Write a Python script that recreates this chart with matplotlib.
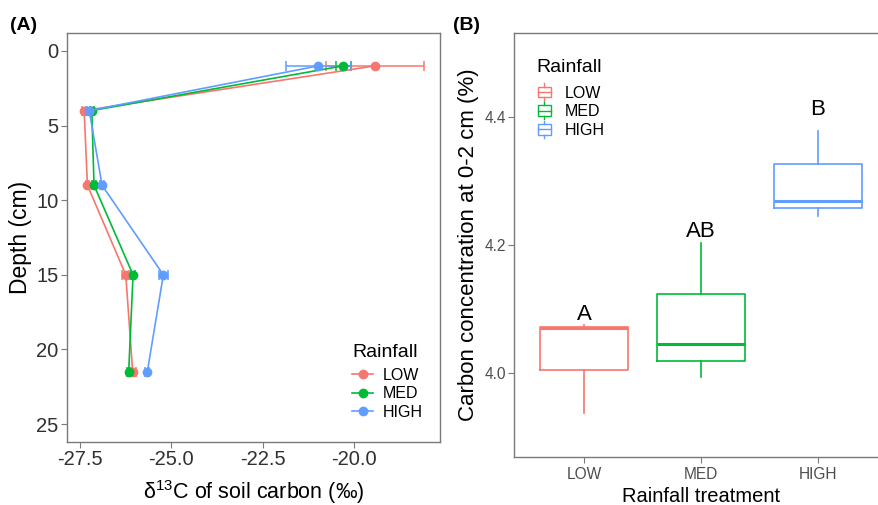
import matplotlib
matplotlib.use('Agg')
import matplotlib.pyplot as plt
from matplotlib.lines import Line2D
from matplotlib.patches import Rectangle, Patch
from matplotlib.legend_handler import HandlerBase

plt.rcParams['font.family'] = ['Liberation Sans', 'DejaVu Sans']
plt.rcParams['mathtext.fontset'] = 'custom'
plt.rcParams['mathtext.rm'] = 'Liberation Sans'
plt.rcParams['mathtext.it'] = 'Liberation Sans:italic'

# ---------------- data ----------------
groups = ['LOW', 'MED', 'HIGH']
colors = ['#F8766D', '#00BA38', '#619CFF']

depth = [1, 4, 9, 15, 21.5]
d13c_low = [-19.42, -27.39, -27.30, -26.25, -26.06]
d13c_med = [-20.29, -27.18, -27.12, -26.05, -26.17]
d13c_high = [-20.97, -27.25, -26.90, -25.22, -25.66]
se_low = [1.33, 0.05, 0.05, 0.10, 0.10]
se_med = [0.20, 0.05, 0.05, 0.05, 0.05]
se_high = [0.88, 0.05, 0.05, 0.12, 0.05]

xticks_a = [-27.5, -25.0, -22.5, -20.0]
yticks_a = [0, 5, 10, 15, 20, 25]

box_whislo = [3.939, 3.995, 4.245]
box_q1 = [4.005, 4.020, 4.257]
box_med = [4.071, 4.046, 4.2685]
box_q3 = [4.072, 4.124, 4.326]
box_whishi = [4.075, 4.2025, 4.3775]
letters = ['A', 'AB', 'B']
letter_y = [4.075, 4.204, 4.394]
yticks_b = [4.0, 4.2, 4.4]

W, H = 879, 505
fig = plt.figure(figsize=(W / 100, H / 100), dpi=100)
spine_c = '#7a7a7a'

# ---------------- panel A ----------------
axA = fig.add_axes([67 / W, 63 / H, 373 / W, 409 / H])
series = [d13c_low, d13c_med, d13c_high]
ses = [se_low, se_med, se_high]
handles = []
for vals, se, c, g in zip(series, ses, colors, groups):
    axA.errorbar(vals, depth, xerr=se, color=c, marker='o', ms=6, lw=1.2,
                 elinewidth=1.1, capsize=3.5, capthick=1.1, zorder=3)
    handles.append(Line2D([], [], color=c, marker='o', ms=6, lw=1.2, label=g))

axA.set_xlim(-27.86, -17.64)
axA.set_ylim(26.2, -1.2)
axA.set_xticks(xticks_a)
axA.set_xticklabels([f'{v:.1f}' for v in xticks_a])
axA.set_yticks(yticks_a)
axA.set_yticklabels([str(v) for v in yticks_a])
axA.tick_params(direction='out', length=4, width=0.8, color=spine_c,
                labelsize=14.5, labelcolor='#303030', pad=2)
for s in axA.spines.values():
    s.set_color(spine_c)
    s.set_linewidth(1.0)
axA.set_ylabel('Depth (cm)', fontsize=16.5, labelpad=3)
axA.set_xlabel(r'δ$^{13}$C of soil carbon (‰)', fontsize=15.5, labelpad=6)
legA = axA.legend(handles=handles, title='Rainfall', loc='upper left',
                  bbox_to_anchor=(338 / W, 1 - 330 / H), bbox_transform=fig.transFigure,
                  frameon=False, fontsize=11.5, title_fontsize=14,
                  handlelength=1.3, handletextpad=0.6, labelspacing=0.22)
legA._legend_box.align = 'left'
legA._legend_box.sep += 2

# ---------------- panel B ----------------
axB = fig.add_axes([514 / W, 48 / H, 374 / W, 424 / H])
stats = []
for i, g in enumerate(groups):
    stats.append(dict(label=g, whislo=box_whislo[i], q1=box_q1[i], med=box_med[i],
                      q3=box_q3[i], whishi=box_whishi[i], fliers=[]))
bp = axB.bxp(stats, positions=[1, 2, 3], widths=0.75, showfliers=False,
             showcaps=False, patch_artist=False)
for i, c in enumerate(colors):
    bp['boxes'][i].set_color(c)
    bp['boxes'][i].set_linewidth(1.2)
    bp['medians'][i].set_color(c)
    bp['medians'][i].set_linewidth(2.2)
    for w in bp['whiskers'][2 * i:2 * i + 2]:
        w.set_color(c)
        w.set_linewidth(1.2)

for i, (t, y) in enumerate(zip(letters, letter_y)):
    axB.text(i + 1, y, t, ha='center', va='bottom', fontsize=16, color='black')

axB.set_xlim(0.4, 3.6)
axB.set_ylim(3.870, 4.530)
axB.set_xticks([1, 2, 3])
axB.set_xticklabels(groups)
axB.set_yticks(yticks_b)
axB.set_yticklabels([f'{v:.1f}' for v in yticks_b])
axB.tick_params(direction='out', length=4, width=0.8, color=spine_c,
                labelsize=11.2, labelcolor='#4d4d4d', pad=2)
axB.tick_params(axis='x', pad=3.5)
for s in axB.spines.values():
    s.set_color(spine_c)
    s.set_linewidth(1.0)
axB.set_ylabel('Carbon concentration at 0-2 cm (%)', fontsize=16, labelpad=4)
axB.set_xlabel('Rainfall treatment', fontsize=14.5, labelpad=3)


class BoxHandler(HandlerBase):
    def create_artists(self, legend, orig_handle, xdescent, ydescent, width, height,
                       fontsize, trans):
        c = orig_handle.get_edgecolor()
        cx = width / 2 - xdescent
        bw = width * 0.8
        y0 = -ydescent + height * 0.1
        y1 = -ydescent + height * 0.9
        rect = Rectangle((cx - bw / 2, y0), bw, y1 - y0, facecolor='white',
                         edgecolor=c, lw=1.0, transform=trans)
        med = Line2D([cx - bw / 2, cx + bw / 2], [(y0 + y1) / 2] * 2, color=c, lw=1.0,
                     transform=trans)
        wt = Line2D([cx, cx], [y1, y1 + height * 0.25], color=c, lw=1.0, transform=trans)
        wb = Line2D([cx, cx], [y0, y0 - height * 0.25], color=c, lw=1.0, transform=trans)
        return [rect, med, wt, wb]


bhandles = [Patch(edgecolor=c, facecolor='white', label=g) for c, g in zip(colors, groups)]
legB = axB.legend(handles=bhandles, title='Rainfall', loc='upper left',
                  bbox_to_anchor=(522 / W, 1 - 45 / H), bbox_transform=fig.transFigure,
                  frameon=False, fontsize=11.5, title_fontsize=14,
                  handler_map={Patch: BoxHandler()},
                  handlelength=1.0, handleheight=0.9, handletextpad=0.8, labelspacing=0.22)
legB._legend_box.align = 'left'
legB._legend_box.sep += 4

fig.text(10 / W, 1 - 25 / H, '(A)', fontsize=14, fontweight='bold', va='center', ha='left')
fig.text(453 / W, 1 - 25 / H, '(B)', fontsize=14, fontweight='bold', va='center', ha='left')

fig.savefig('out.png', dpi=100)
